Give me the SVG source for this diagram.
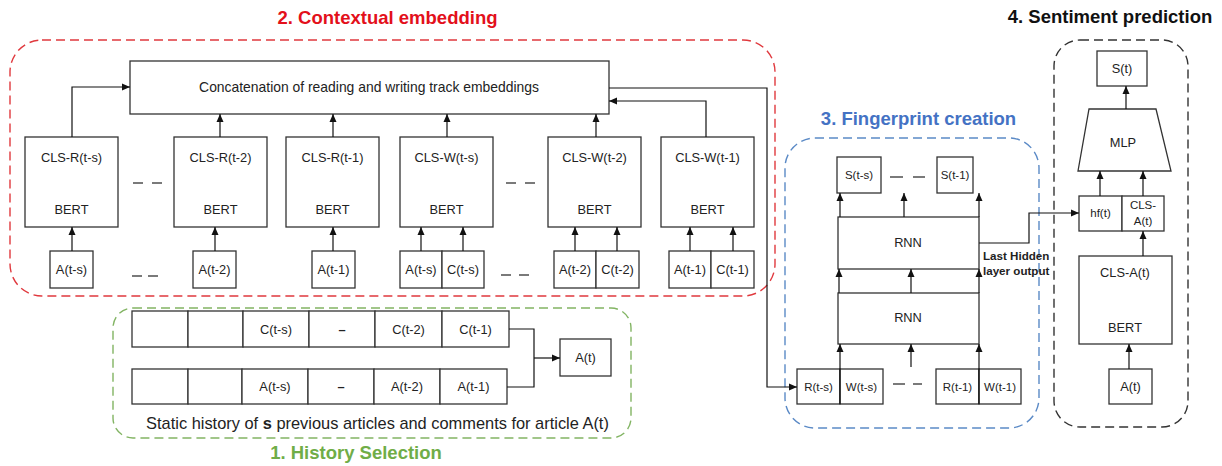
<svg xmlns="http://www.w3.org/2000/svg" width="1222" height="466" viewBox="0 0 1222 466">
<defs>
<marker id="ah" markerUnits="userSpaceOnUse" markerWidth="9" markerHeight="8" refX="8" refY="4" orient="auto">
<path d="M0,0.5 L8,4 L0,7.5 z" fill="#111"/>
</marker>
<style>
text{font-family:"Liberation Sans",Arial,sans-serif;fill:#222;text-anchor:middle}
.box{fill:#fff;stroke:#333;stroke-width:1.3}
.t{font-size:12.8px}
.s{font-size:11.5px}
.ttl{font-size:18.5px;font-weight:bold}
.con{fill:none;stroke:#111;stroke-width:1.2}
.arr{fill:none;stroke:#111;stroke-width:1.2;marker-end:url(#ah)}
.dash{stroke:#222;stroke-width:1.2}
.grp{fill:none;stroke-width:1.4;stroke-dasharray:9 5}
</style>
</defs>
<rect width="1222" height="466" fill="#fff"/>

<!-- group frames -->
<g id="frames">
<rect class="grp" x="10" y="40" width="765" height="256" rx="32" stroke="#e0393e"/>
<rect class="grp" x="113" y="308" width="518" height="130" rx="20" stroke="#82b463"/>
<rect class="grp" x="785" y="138" width="254" height="290" rx="30" stroke="#5b8ac6"/>
<rect class="grp" x="1054" y="40" width="134" height="387" rx="26" stroke="#333"/>
<text class="ttl" x="387.5" y="24" style="fill:#e3101b">2. Contextual embedding</text>
<text class="ttl" x="356" y="459" style="fill:#70ad47">1. History Selection</text>
<text class="ttl" x="918.5" y="125" style="fill:#4472c4">3. Fingerprint creation</text>
<text class="ttl" x="1110" y="23" style="fill:#111">4. Sentiment prediction</text>
</g>

<!-- contextual embedding nodes -->
<g id="concat"><rect class="box" x="130" y="61" width="479" height="53"/><text x="369" y="92" style="font-size:13.9px">Concatenation of reading and writing track embeddings</text></g>
<g id="clsR_s"><rect class="box" x="25" y="137" width="93" height="90"/><text class="t" x="71.5" y="162">CLS-R(t-s)</text><text class="t" x="71.5" y="214">BERT</text></g>
<g id="clsR_2"><rect class="box" x="174" y="137" width="93" height="90"/><text class="t" x="220.5" y="162">CLS-R(t-2)</text><text class="t" x="220.5" y="214">BERT</text></g>
<g id="clsR_1"><rect class="box" x="286" y="137" width="93" height="90"/><text class="t" x="332.5" y="162">CLS-R(t-1)</text><text class="t" x="332.5" y="214">BERT</text></g>
<g id="clsW_s"><rect class="box" x="400" y="137" width="93" height="90"/><text class="t" x="446.5" y="162">CLS-W(t-s)</text><text class="t" x="446.5" y="214">BERT</text></g>
<g id="clsW_2"><rect class="box" x="548" y="137" width="93" height="90"/><text class="t" x="594.5" y="162">CLS-W(t-2)</text><text class="t" x="594.5" y="214">BERT</text></g>
<g id="clsW_1"><rect class="box" x="661" y="137" width="93" height="90"/><text class="t" x="707.5" y="162">CLS-W(t-1)</text><text class="t" x="707.5" y="214">BERT</text></g>
<g id="a_s"><rect class="box" x="50" y="251" width="43" height="37"/><text class="t" x="71.5" y="274">A(t-s)</text></g>
<g id="a_2"><rect class="box" x="193" y="251" width="43" height="37"/><text class="t" x="214.5" y="274">A(t-2)</text></g>
<g id="a_1"><rect class="box" x="312" y="251" width="43" height="37"/><text class="t" x="333.5" y="274">A(t-1)</text></g>
<g id="ac_s"><rect class="box" x="400" y="251" width="42" height="37"/><rect class="box" x="442" y="251" width="42" height="37"/><text class="t" x="421" y="274">A(t-s)</text><text class="t" x="463" y="274">C(t-s)</text></g>
<g id="ac_2"><rect class="box" x="554" y="251" width="42" height="37"/><rect class="box" x="596" y="251" width="43" height="37"/><text class="t" x="575" y="274">A(t-2)</text><text class="t" x="617.5" y="274">C(t-2)</text></g>
<g id="ac_1"><rect class="box" x="669" y="251" width="42" height="37"/><rect class="box" x="711" y="251" width="43" height="37"/><text class="t" x="690" y="274">A(t-1)</text><text class="t" x="732.5" y="274">C(t-1)</text></g>
<g id="ellipses1">
<line class="dash" x1="133" y1="183" x2="143" y2="183"/><line class="dash" x1="152" y1="183" x2="162" y2="183"/>
<line class="dash" x1="132" y1="276" x2="142" y2="276"/><line class="dash" x1="148" y1="276" x2="158" y2="276"/>
<line class="dash" x1="506" y1="183" x2="516" y2="183"/><line class="dash" x1="525" y1="183" x2="535" y2="183"/>
<line class="dash" x1="501" y1="275" x2="511" y2="275"/><line class="dash" x1="519" y1="275" x2="529" y2="275"/>
</g>

<!-- history selection -->
<g id="history_c">
<rect class="box" x="132" y="311" width="56" height="36"/><rect class="box" x="188" y="311" width="55" height="36"/>
<rect class="box" x="243" y="311" width="66" height="36"/><rect class="box" x="309" y="311" width="66" height="36"/>
<rect class="box" x="375" y="311" width="67" height="36"/><rect class="box" x="442" y="311" width="67" height="36"/>
<text class="t" x="276" y="333.5">C(t-s)</text><text class="t" x="342" y="333.5" style="font-weight:bold">–</text>
<text class="t" x="408.5" y="333.5">C(t-2)</text><text class="t" x="475.5" y="333.5">C(t-1)</text>
</g>
<g id="history_a">
<rect class="box" x="132" y="369" width="56" height="35"/><rect class="box" x="188" y="369" width="54" height="35"/>
<rect class="box" x="242" y="369" width="66" height="35"/><rect class="box" x="308" y="369" width="66" height="35"/>
<rect class="box" x="374" y="369" width="66" height="35"/><rect class="box" x="440" y="369" width="67" height="35"/>
<text class="t" x="275" y="391">A(t-s)</text><text class="t" x="341" y="391" style="font-weight:bold">–</text>
<text class="t" x="407" y="391">A(t-2)</text><text class="t" x="473.5" y="391">A(t-1)</text>
</g>
<g id="at_hist"><rect class="box" x="560" y="339" width="51" height="37"/><text class="t" x="585.5" y="362">A(t)</text></g>
<text x="377.5" y="429" style="font-size:16.4px">Static history of <tspan style="font-weight:bold">s</tspan> previous articles and comments for article A(t)</text>

<!-- fingerprint -->
<g id="s_s"><rect class="box" x="837" y="157" width="44" height="36"/><text class="s" x="859" y="179">S(t-s)</text></g>
<g id="s_1"><rect class="box" x="937" y="157" width="36" height="36"/><text class="s" x="955" y="179">S(t-1)</text></g>
<g id="rnn2"><rect class="box" x="838" y="217" width="141" height="52"/><text class="t" x="908" y="247">RNN</text></g>
<g id="rnn1"><rect class="box" x="838" y="293" width="141" height="51"/><text class="t" x="908" y="322">RNN</text></g>
<g id="rw_s"><rect class="box" x="797" y="369" width="43" height="35"/><rect class="box" x="840" y="369" width="43" height="35"/><text class="s" x="818.5" y="391">R(t-s)</text><text class="s" x="861.5" y="391">W(t-s)</text></g>
<g id="rw_1"><rect class="box" x="936" y="369" width="43" height="35"/><rect class="box" x="979" y="369" width="42" height="35"/><text class="s" x="957.5" y="391">R(t-1)</text><text class="s" x="1000" y="391">W(t-1)</text></g>
<g id="ellipses2">
<line class="dash" x1="890" y1="177" x2="903" y2="177"/><line class="dash" x1="913" y1="177" x2="925" y2="177"/>
<line class="dash" x1="893" y1="384" x2="905" y2="384"/><line class="dash" x1="913" y1="384" x2="922" y2="384"/>
</g>
<text x="983" y="260" style="font-size:11.6px;font-weight:bold;text-anchor:start">Last Hidden</text>
<text x="983" y="275" style="font-size:11.6px;font-weight:bold;text-anchor:start">layer output</text>

<!-- sentiment -->
<g id="st"><rect class="box" x="1097" y="51" width="50" height="35"/><text class="t" x="1122" y="73">S(t)</text></g>
<g id="mlp"><polygon class="box" points="1089,109 1156,109 1171,171 1078,171"/><text class="t" x="1123" y="147">MLP</text></g>
<g id="hf"><rect class="box" x="1079" y="196" width="43" height="35"/><rect class="box" x="1122" y="196" width="42" height="35"/><text class="s" x="1100.5" y="217">hf(t)</text><text class="s" x="1143" y="209">CLS-</text><text class="s" x="1143" y="225">A(t)</text></g>
<g id="bert_at"><rect class="box" x="1079" y="256" width="93" height="88"/><text class="t" x="1125" y="277">CLS-A(t)</text><text class="t" x="1125" y="332">BERT</text></g>
<g id="at"><rect class="box" x="1109" y="369" width="43" height="35"/><text class="t" x="1130.5" y="391">A(t)</text></g>

<!-- connectors -->
<g id="connectors">
<path class="arr" d="M72,251 V227"/><path class="arr" d="M215,251 V227"/><path class="arr" d="M333,251 V227"/>
<path class="arr" d="M421,251 V227"/><path class="arr" d="M463,251 V227"/>
<path class="arr" d="M575,251 V227"/><path class="arr" d="M617,251 V227"/>
<path class="arr" d="M690,251 V227"/><path class="arr" d="M733,251 V227"/>
<path class="arr" d="M72,137 V87 H130"/>
<path class="arr" d="M220,137 V114"/><path class="arr" d="M333,137 V114"/>
<path class="arr" d="M447,137 V114"/><path class="arr" d="M596,137 V114"/>
<path class="arr" d="M706,137 V101 H609"/>
<path class="arr" d="M609,88 H767 V387 H797"/>
<path class="con" d="M509,329 H534 V387 H507"/>
<path class="arr" d="M534,358 H560"/>
<path class="arr" d="M840,404 V344"/><path class="arr" d="M911,367 V344"/><path class="arr" d="M979,404 V344"/>
<path class="arr" d="M839,293 V269"/><path class="arr" d="M911,293 V269"/><path class="arr" d="M979,293 V269"/>
<path class="arr" d="M840,217 V193"/><path class="arr" d="M904,217 V193"/><path class="arr" d="M979,217 V193"/>
<path class="arr" d="M979,243 H1029 V213 H1079"/>
<path class="arr" d="M1129,369 V344"/>
<path class="arr" d="M1143,256 V231"/>
<path class="arr" d="M1100,196 V171"/><path class="arr" d="M1143,196 V171"/>
<path class="arr" d="M1126,109 V86"/>
</g>
</svg>
